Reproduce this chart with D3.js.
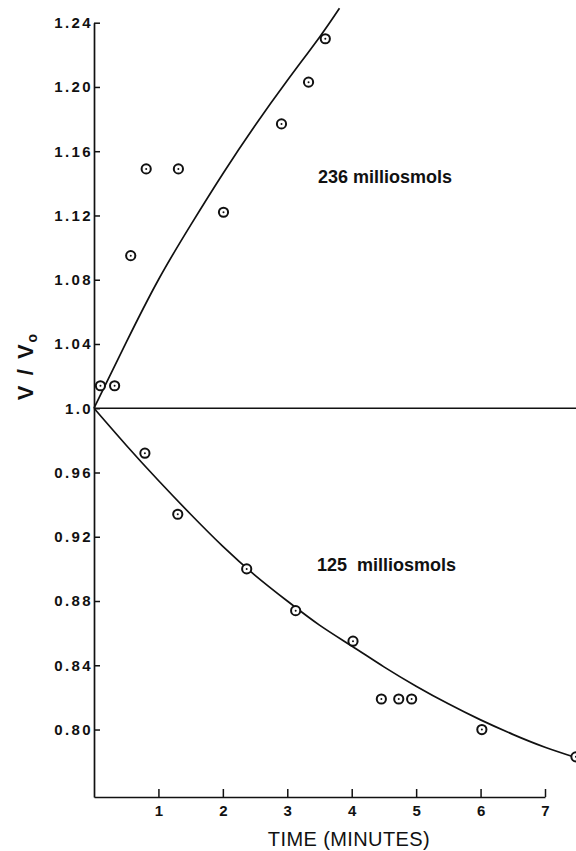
<!DOCTYPE html>
<html>
<head>
<meta charset="utf-8">
<script src="https://cdn.jsdelivr.net/npm/d3@7/dist/d3.min.js"></script>
<style>
  html, body { margin: 0; padding: 0; background: #fff; }
  svg { display: block; }
  .lbl { font-family: "Liberation Sans", Arial, sans-serif; fill: #111; }
</style>
</head>
<body>
<script>
// Axis ticks
const timeTicks = [1, 2, 3, 4, 5, 6, 7];
const volTicks = [1.24, 1.20, 1.16, 1.12, 1.08, 1.04, 1.0, 0.96, 0.92, 0.88, 0.84, 0.80];
const volTickLabels = ["1.24", "1.20", "1.16", "1.12", "1.08", "1.04", "1.0", "0.96", "0.92", "0.88", "0.84", "0.80"];

// 236 milliosmols: measured relative volume
const hiTime = [0.10, 0.32, 0.57, 0.81, 1.31, 2.01, 2.91, 3.33, 3.59];
const hiVol  = [1.014, 1.014, 1.095, 1.149, 1.149, 1.122, 1.177, 1.203, 1.230];

// 125 milliosmols: measured relative volume
const loTime = [0.79, 1.30, 2.37, 3.13, 4.02, 4.46, 4.73, 4.93, 6.02, 7.48];
const loVol  = [0.972, 0.934, 0.900, 0.874, 0.855, 0.819, 0.819, 0.819, 0.800, 0.783];

// Smooth curves drawn through each set
const hiCurveTime = [0, 0.5, 1.0, 1.5, 2.0, 2.5, 3.0, 3.5, 3.81];
const hiCurveVol  = [1.000, 1.041, 1.080, 1.114, 1.146, 1.176, 1.204, 1.231, 1.249];
const loCurveTime = [0, 0.5, 1.0, 1.5, 2.0, 2.5, 3.0, 3.5, 4.0, 4.5, 5.0, 5.5, 6.0, 6.5, 7.0, 7.6];
const loCurveVol  = [1.000, 0.977, 0.955, 0.934, 0.914, 0.896, 0.880, 0.865, 0.852, 0.839, 0.827, 0.816, 0.806, 0.797, 0.789, 0.781];

// Reference level V = V0
const refTime = [0, 7.6];
const refVol = [1.0, 1.0];

const W = 576, H = 851;
const svg = d3.select("body").append("svg").attr("width", W).attr("height", H);
svg.append("rect").attr("width", W).attr("height", H).attr("fill", "#fff");

const x = d3.scaleLinear().domain([0, 7]).range([94, 545]);
const y = d3.scaleLinear().domain([0.758, 1.24]).range([797, 22.7]);

function styleTickText(sel, size, spacing) {
  sel.selectAll(".tick text")
    .style("font-family", '"Liberation Sans", Arial, sans-serif')
    .style("font-weight", "bold")
    .style("font-size", size + "px")
    .style("letter-spacing", spacing + "px")
    .attr("fill", "#111");
}

// Y axis: ticks point inward
const yAxis = d3.axisLeft(y)
  .tickValues(volTicks)
  .tickFormat((d, i) => volTickLabels[i])
  .tickSize(-6)
  .tickSizeOuter(0)
  .tickPadding(1);
const gy = svg.append("g").attr("transform", `translate(${x(0)},0)`).call(yAxis);
gy.select(".domain").attr("stroke", "#111").attr("stroke-width", 1.7);
gy.selectAll(".tick line").attr("stroke", "#111").attr("stroke-width", 1.5);
styleTickText(gy, 15, 2.4);

// X axis: ticks point upward
const xAxis = d3.axisBottom(x)
  .tickValues(timeTicks)
  .tickFormat(d3.format("d"))
  .tickSize(-8)
  .tickSizeOuter(0)
  .tickPadding(8);
const gx = svg.append("g").attr("transform", `translate(0,${y(0.758)})`).call(xAxis);
gx.select(".domain").attr("stroke", "#111").attr("stroke-width", 1.7);
gx.selectAll(".tick line").attr("stroke", "#111").attr("stroke-width", 1.5);
styleTickText(gx, 15, 0);

// Curves
const straight = d3.line().x(d => x(d[0])).y(d => y(d[1]));
const smooth = d3.line().x(d => x(d[0])).y(d => y(d[1])).curve(d3.curveNatural);
const zip = (a, b) => a.map((v, i) => [v, b[i]]);

svg.append("path").datum(zip(refTime, refVol)).attr("d", straight)
  .attr("fill", "none").attr("stroke", "#111").attr("stroke-width", 1.7);
svg.append("path").datum(zip(hiCurveTime, hiCurveVol)).attr("d", smooth)
  .attr("fill", "none").attr("stroke", "#111").attr("stroke-width", 1.7);
svg.append("path").datum(zip(loCurveTime, loCurveVol)).attr("d", smooth)
  .attr("fill", "none").attr("stroke", "#111").attr("stroke-width", 1.7);

// Data points: open circle with centre dot
function drawPoints(ts, vs) {
  const g = svg.append("g");
  const pts = zip(ts, vs);
  g.selectAll("circle.ring").data(pts).join("circle").attr("class", "ring")
    .attr("cx", d => x(d[0])).attr("cy", d => y(d[1])).attr("r", 4.6)
    .attr("fill", "#fff").attr("stroke", "#111").attr("stroke-width", 2);
  g.selectAll("circle.dot").data(pts).join("circle").attr("class", "dot")
    .attr("cx", d => x(d[0])).attr("cy", d => y(d[1])).attr("r", 1)
    .attr("fill", "#111");
}
drawPoints(hiTime, hiVol);
drawPoints(loTime, loVol);

// Series labels
svg.append("text").attr("class", "lbl").attr("x", 318).attr("y", 183)
  .attr("font-size", 18).attr("font-weight", "bold").text("236 milliosmols");
svg.append("text").attr("class", "lbl").attr("x", 317).attr("y", 571)
  .attr("font-size", 18).attr("font-weight", "bold").attr("xml:space", "preserve")
  .text("125  milliosmols");

// Axis titles
svg.append("text").attr("class", "lbl").attr("x", 349).attr("y", 846)
  .attr("text-anchor", "middle").attr("font-size", 20).attr("letter-spacing", 0.4)
  .text("TIME (MINUTES)");

const yt = svg.append("text").attr("class", "lbl")
  .attr("transform", "translate(33,366) rotate(-90)")
  .attr("text-anchor", "middle").attr("font-size", 22).attr("font-weight", "bold")
  .attr("letter-spacing", 2);
yt.append("tspan").text("V / V");
yt.append("tspan").attr("font-size", 14).attr("dy", 4).text("o");
</script>
</body>
</html>
